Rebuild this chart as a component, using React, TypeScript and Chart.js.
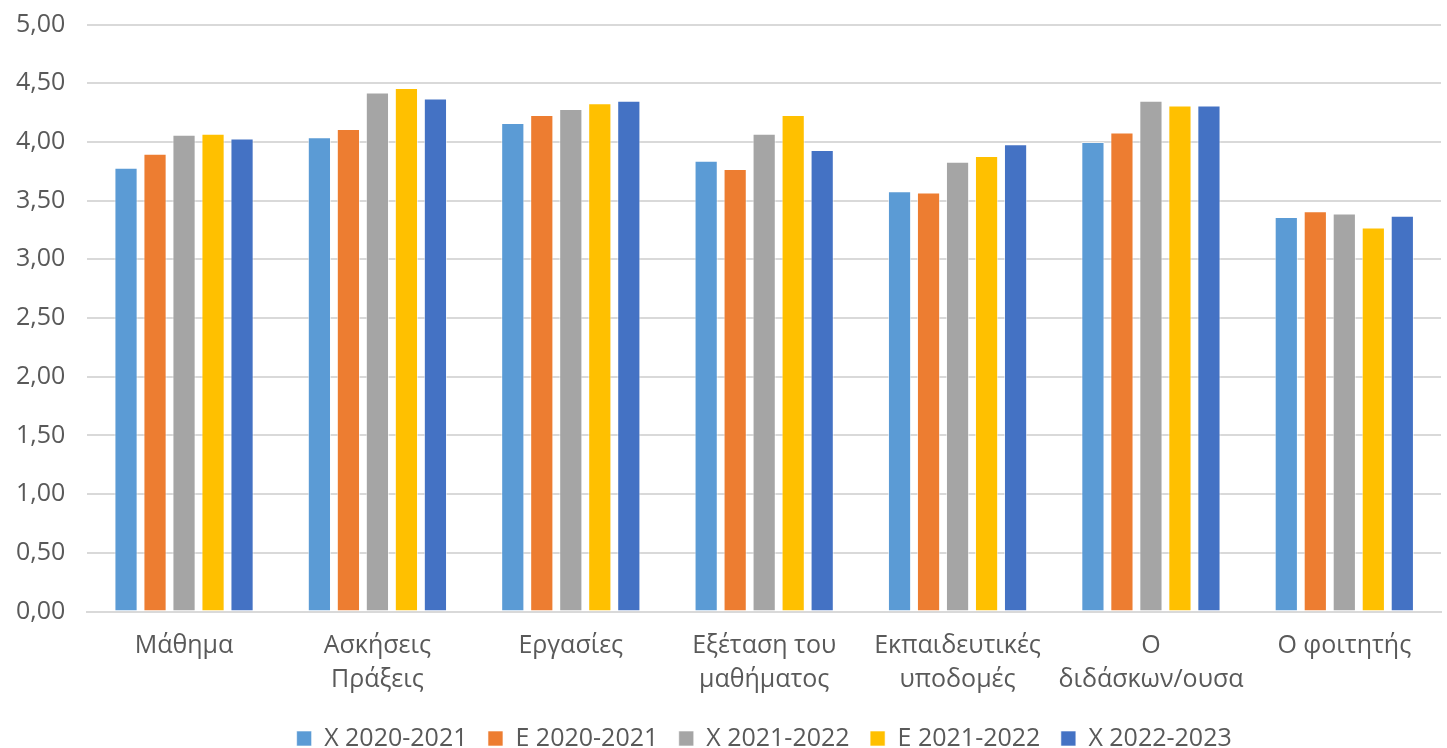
import React, { useEffect, useRef } from "react";
import { Chart, registerables } from "chart.js";

Chart.register(...registerables);

const categories: (string | string[])[] = [
  "Μάθημα",
  ["Ασκήσεις", "Πράξεις"],
  "Εργασίες",
  ["Εξέταση του", "μαθήματος"],
  ["Εκπαιδευτικές", "υποδομές"],
  ["Ο", "διδάσκων/ουσα"],
  "Ο φοιτητής",
];

const seriesNames = ["Χ 2020-2021", "Ε 2020-2021", "Χ 2021-2022", "Ε 2021-2022", "Χ 2022-2023"];
const seriesColors = ["#5B9BD5", "#ED7D31", "#A5A5A5", "#FFC000", "#4472C4"];

const x2021 = [3.78, 4.04, 4.16, 3.84, 3.58, 4.0, 3.36];
const e2021 = [3.9, 4.11, 4.23, 3.77, 3.57, 4.08, 3.41];
const x2122 = [4.06, 4.42, 4.28, 4.07, 3.83, 4.35, 3.39];
const e2122 = [4.07, 4.46, 4.33, 4.23, 3.88, 4.31, 3.27];
const x2223 = [4.03, 4.37, 4.35, 3.93, 3.98, 4.31, 3.37];

const seriesValues = [x2021, e2021, x2122, e2122, x2223];

const FONT = "'Open Sans', 'Noto Sans', sans-serif";

export default function App() {
  const ref = useRef<HTMLCanvasElement>(null);
  useEffect(() => {
    if (!ref.current) return;
    const chart = new Chart(ref.current, {
      type: "bar",
      data: {
        labels: categories,
        datasets: seriesNames.map((name, i) => ({
          label: name,
          data: seriesValues[i],
          backgroundColor: seriesColors[i],
          borderColor: "rgba(255,255,255,0.6)",
          borderWidth: 1,
          categoryPercentage: 0.75,
          barPercentage: 0.8,
        })),
      },
      options: {
        responsive: false,
        animation: false,
        maintainAspectRatio: false,
        layout: { padding: { top: 0, right: 6, left: -6, bottom: -13 } },
        plugins: {
          tooltip: { enabled: false },
          legend: {
            position: "bottom",
            fullSize: false,
            labels: {
              font: { family: FONT, size: 25 },
              color: "#595959",
              boxWidth: 15,
              boxHeight: 15,
              padding: 20.5,
            },
          },
        },
        scales: {
          x: {
            grid: { display: false },
            border: { color: "#D9D9D9", width: 2 },
            ticks: {
              font: { family: FONT, size: 25, lineHeight: 1.36 },
              color: "#595959",
              maxRotation: 0,
              autoSkip: false,
              padding: 9,
            },
          },
          y: {
            min: 0,
            max: 5,
            grid: { color: "#D9D9D9", lineWidth: 2, drawTicks: false },
            border: { display: false },
            ticks: {
              stepSize: 0.5,
              font: { family: FONT, size: 25, lineHeight: 0.2 },
              color: "#595959",
              padding: 22,
              callback: (v: any) => Number(v).toFixed(2).replace(".", ","),
            },
          },
        },
      },
    });
    return () => chart.destroy();
  }, []);
  return (
    <div style={{ position: "absolute", left: 0, top: 0, width: 1447, height: 748, background: "#fff" }}>
      <canvas ref={ref} width={1447} height={748} style={{ display: "block" }} />
    </div>
  );
}
